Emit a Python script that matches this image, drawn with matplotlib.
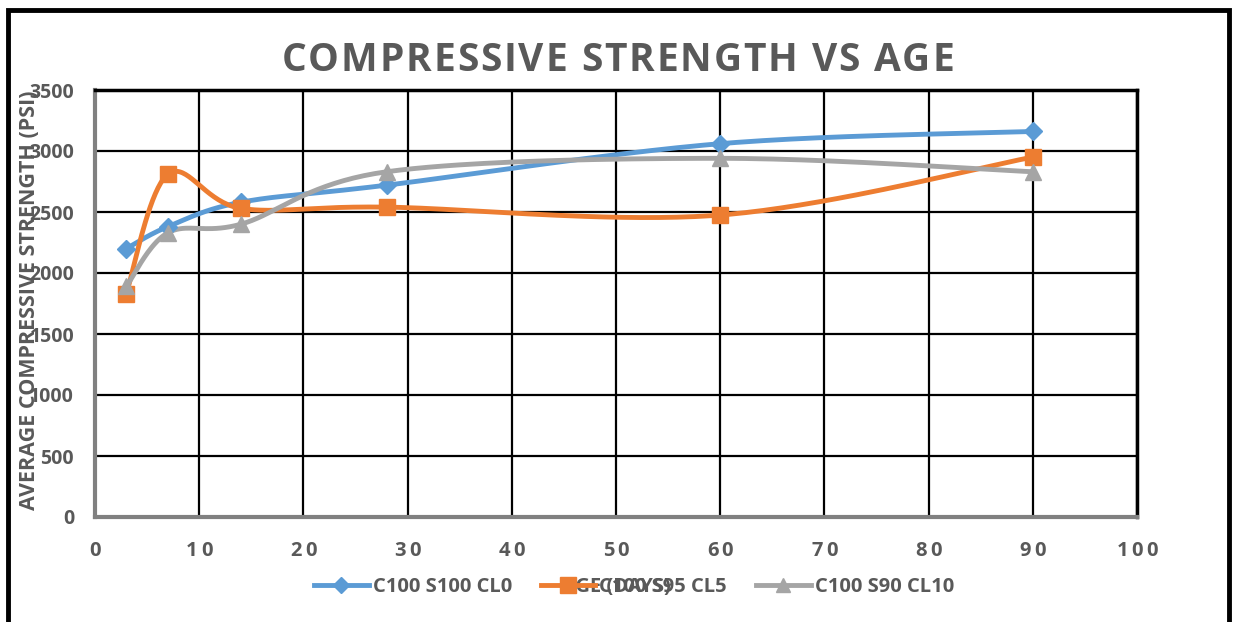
import numpy as np
import matplotlib
matplotlib.use("Agg")
import matplotlib.pyplot as plt
from matplotlib.lines import Line2D
from matplotlib.patches import Rectangle

age = [3, 7, 14, 28, 60, 90]
s_cl0 = [2200, 2380, 2580, 2720, 3060, 3160]
s_cl5 = [1830, 2810, 2530, 2540, 2475, 2950]
s_cl10 = [1890, 2330, 2400, 2830, 2940, 2830]
series_names = ["C100 S100 CL0", "C100 S95 CL5", "C100 S90 CL10"]
x_ticks = [0, 10, 20, 30, 40, 50, 60, 70, 80, 90, 100]
y_ticks = [0, 500, 1000, 1500, 2000, 2500, 3000, 3500]
colors = ["#5B9BD5", "#ED7D31", "#A5A5A5"]
markers = ["D", "s", "^"]
msizes = [9, 12, 11]

title = "COMPRESSIVE STRENGTH VS AGE"
xlabel = "AGE (DAYS)"
ylabel = "AVERAGE COMPRESSIVE STRENGTH (PSI)"
gray = "#595959"
FONT = ["Open Sans", "DejaVu Sans"]

W, H = 1236, 622


def smooth(x, y, n=40):
    x = np.asarray(x, float)
    y = np.asarray(y, float)
    P = np.column_stack([x, y])
    P_ext = np.vstack([P[0], P, P[-1]])
    out = []
    t = np.linspace(0, 1, n)[:, None]
    for i in range(len(P) - 1):
        p0, p1, p2, p3 = P_ext[i], P_ext[i + 1], P_ext[i + 2], P_ext[i + 3]
        b0 = p1
        b1 = p1 + (p2 - p0) / 6.0
        b2 = p2 - (p3 - p1) / 6.0
        b3 = p2
        seg = ((1 - t) ** 3) * b0 + 3 * ((1 - t) ** 2) * t * b1 + 3 * (1 - t) * t ** 2 * b2 + t ** 3 * b3
        out.append(seg if i == 0 else seg[1:])
    out = np.vstack(out)
    return out[:, 0], out[:, 1]


fig = plt.figure(figsize=(W / 100, H / 100), dpi=100)
fig.patch.set_facecolor("white")
renderer = fig.canvas.get_renderer()


def measure(s, **kw):
    if s == "":
        return 0.0
    t = fig.text(0, 0, s, **kw)
    w = t.get_window_extent(renderer).width
    t.remove()
    return w


def tracked(xc, yb, s, track, **kw):
    """Draw string s centred at pixel x=xc (from left), baseline at pixel y=yb (from top)."""
    total = measure(s, **kw) + track * (len(s) - 1)
    x0 = xc - total / 2
    for i, ch in enumerate(s):
        if ch == " ":
            continue
        pos = measure(s[:i + 1], **kw) - measure(ch, **kw) + track * i
        fig.text((x0 + pos) / W, 1 - yb / H, ch, ha="left", va="baseline", **kw)


# outer border
fig.add_artist(Rectangle((8 / W, -0.05), (1229 - 8) / W, 1 - 9.5 / H + 0.05,
                         transform=fig.transFigure, fill=False, lw=3.5, ec="black"))

ax = fig.add_axes([95 / W, 1 - 517 / H, (1137 - 95) / W, (517 - 90) / H])
ax.set_xlim(0, 100)
ax.set_ylim(0, 3500)
ax.set_xticks(x_ticks)
ax.set_yticks(y_ticks)
ax.set_xticklabels([])
ax.grid(True, color="black", lw=1.6)
ax.set_axisbelow(True)
for s in ["top", "right"]:
    ax.spines[s].set_linewidth(2.5)
    ax.spines[s].set_color("black")
for s in ["left", "bottom"]:
    ax.spines[s].set_linewidth(3)
    ax.spines[s].set_color("#808080")
ax.tick_params(length=0)
ax.tick_params(axis="y", labelsize=14, labelcolor=gray, pad=15)
for lab in ax.get_yticklabels():
    lab.set_fontweight("bold")
    lab.set_family(FONT)

tick_kw = dict(fontsize=14.5, fontweight="bold", color=gray, family=FONT)
for v in x_ticks:
    xd = ax.transData.transform((v, 0))[0]
    tracked(xd, 555.5, str(v), 3.0, **tick_kw)

for ys, c, m, ms, nm in zip([s_cl0, s_cl5, s_cl10], colors, markers, msizes, series_names):
    sx, sy = smooth(age, ys)
    ax.plot(sx, sy, color=c, lw=3.5, solid_capstyle="round", zorder=3)
    ax.plot(age, ys, ls="none", marker=m, color=c, ms=ms, zorder=4)

tracked(618, 71, title, 1.9, fontsize=28, fontweight="bold", color=gray, family=FONT)

fig.text(30 / W, 1 - 300 / H, ylabel, rotation=90, ha="center", va="center",
         fontsize=15.5, fontweight="bold", color=gray, family=FONT)
fig.text(616 / W, 1 - 587 / H, xlabel, ha="center", va="center",
         fontsize=14.5, fontweight="bold", color=gray, family=FONT)

handles = [Line2D([], [], color=c, lw=3.5, marker=m, ms=ms - 1)
           for c, m, ms in zip(colors, markers, msizes)]
leg = fig.legend(handles, series_names, loc="center", bbox_to_anchor=(634 / W, 1 - 587 / H),
                 ncol=3, frameon=False, handlelength=2.7, columnspacing=1.45, handletextpad=0.2,
                 prop={"family": FONT, "weight": "bold", "size": 14.5})
for t in leg.get_texts():
    t.set_color(gray)

fig.savefig("out.png", dpi=100, facecolor="white")
